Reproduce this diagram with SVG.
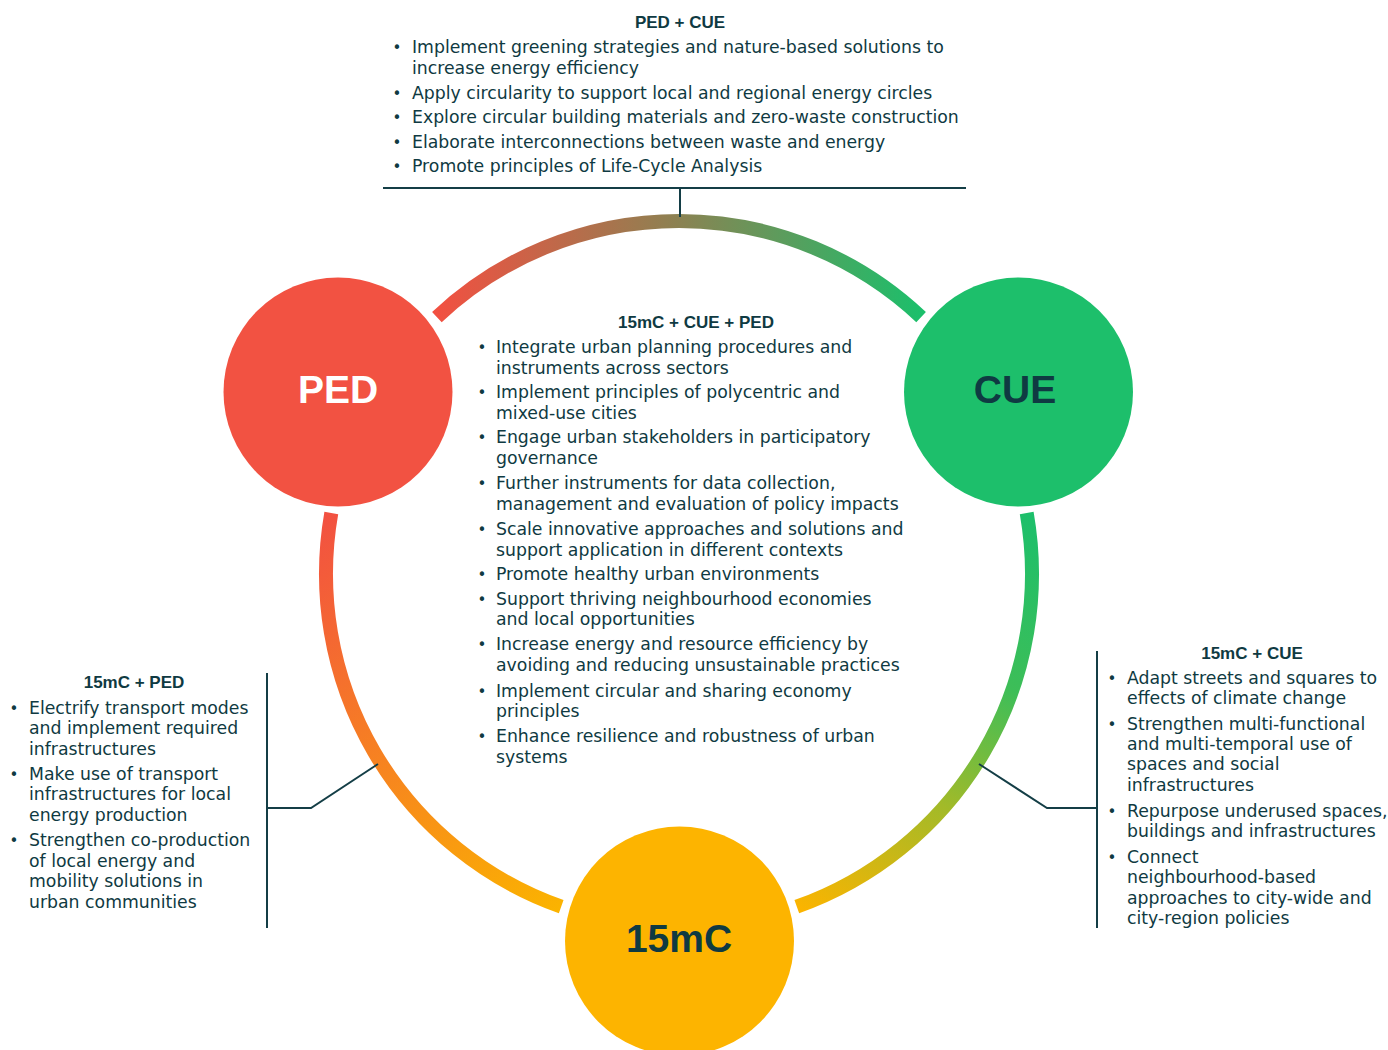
<svg xmlns="http://www.w3.org/2000/svg" width="1388" height="1050" viewBox="0 0 1388 1050">
<defs>
<style>
.t{font-family:"DejaVu Sans","Noto Sans",sans-serif;font-size:17.3px;fill:#0f3a42}
.b{font-family:"DejaVu Sans","Noto Sans",sans-serif;font-size:15px;fill:#0f3a42;text-anchor:middle}
.h{font-family:"Liberation Sans",Arial,sans-serif;font-weight:bold;font-size:17px;fill:#0f3a42;text-anchor:middle}
.lab{font-family:"Liberation Sans",Arial,sans-serif;font-weight:bold;font-size:39px;text-anchor:middle}
.ln{fill:none;stroke:#143e46;stroke-width:2}
.ring{fill:none;stroke-width:14}
</style>
<linearGradient id="gTop" gradientUnits="userSpaceOnUse" x1="437" y1="300" x2="921" y2="300">
<stop offset="0" stop-color="#f25041"/>
<stop offset="0.5" stop-color="#8b8252"/>
<stop offset="1" stop-color="#1cbf6b"/>
</linearGradient>
<linearGradient id="gLeft" gradientUnits="userSpaceOnUse" x1="331" y1="513" x2="561" y2="907">
<stop offset="0" stop-color="#f25141"/>
<stop offset="0.55" stop-color="#f7851f"/>
<stop offset="1" stop-color="#fbb300"/>
</linearGradient>
<linearGradient id="gRight" gradientUnits="userSpaceOnUse" x1="1027" y1="513" x2="797" y2="907">
<stop offset="0" stop-color="#1dbf6b"/>
<stop offset="0.35" stop-color="#3dbe58"/>
<stop offset="0.65" stop-color="#a3ba28"/>
<stop offset="1" stop-color="#fbb400"/>
</linearGradient>
</defs>
<rect width="1388" height="1050" fill="#ffffff"/>

<g id="connectors">
<path class="ring" stroke="url(#gTop)" d="M436.9,317.1 A353,353 0 0 1 921.1,317.1"/>
<path class="ring" stroke="url(#gLeft)" d="M331.3,513 A353,353 0 0 0 561.2,906.7"/>
<path class="ring" stroke="url(#gRight)" d="M1026.7,513 A353,353 0 0 1 796.8,906.7"/>
<path class="ln" d="M383,188 H966 M680,188 V217"/>
<path class="ln" d="M267,673 V928 M267,808 H311 L378,764"/>
<path class="ln" d="M1097,651 V928 M1097,808 H1047 L979,764"/>
</g>

<g id="ped">
<circle cx="338" cy="392" r="114.5" fill="#f25242"/>
<text class="lab" x="338" y="403" fill="#ffffff">PED</text>
</g>
<g id="cue">
<circle cx="1018.5" cy="392" r="114.5" fill="#1dbf6b"/>
<text class="lab" x="1015" y="403" fill="#0f3a42">CUE</text>
</g>
<g id="c15">
<circle cx="679.5" cy="941" r="114.5" fill="#fdb400"/>
<text class="lab" x="679" y="952" fill="#0f3a42">15mC</text>
</g>

<g id="ped-cue">
<text class="h" x="680" y="28">PED + CUE</text>
<text class="b" x="397" y="53">•</text><text class="t" x="412" y="53">Implement greening strategies and nature-based solutions to</text>
<text class="t" x="412" y="74">increase energy efficiency</text>
<text class="b" x="397" y="98.5">•</text><text class="t" x="412" y="98.5">Apply circularity to support local and regional energy circles</text>
<text class="b" x="397" y="123">•</text><text class="t" x="412" y="123">Explore circular building materials and zero-waste construction</text>
<text class="b" x="397" y="147.5">•</text><text class="t" x="412" y="147.5">Elaborate interconnections between waste and energy</text>
<text class="b" x="397" y="172">•</text><text class="t" x="412" y="172">Promote principles of Life-Cycle Analysis</text>
</g>

<g id="all-three">
<text class="h" x="696" y="328">15mC + CUE + PED</text>
<text class="b" x="482" y="353">•</text><text class="t" x="496" y="353">Integrate urban planning procedures and</text>
<text class="t" x="496" y="373.5">instruments across sectors</text>
<text class="b" x="482" y="398">•</text><text class="t" x="496" y="398">Implement principles of polycentric and</text>
<text class="t" x="496" y="418.5">mixed-use cities</text>
<text class="b" x="482" y="443">•</text><text class="t" x="496" y="443">Engage urban stakeholders in participatory</text>
<text class="t" x="496" y="463.5">governance</text>
<text class="b" x="482" y="489">•</text><text class="t" x="496" y="489">Further instruments for data collection,</text>
<text class="t" x="496" y="509.5">management and evaluation of policy impacts</text>
<text class="b" x="482" y="535">•</text><text class="t" x="496" y="535">Scale innovative approaches and solutions and</text>
<text class="t" x="496" y="556">support application in different contexts</text>
<text class="b" x="482" y="580">•</text><text class="t" x="496" y="580">Promote healthy urban environments</text>
<text class="b" x="482" y="604.5">•</text><text class="t" x="496" y="604.5">Support thriving neighbourhood economies</text>
<text class="t" x="496" y="625">and local opportunities</text>
<text class="b" x="482" y="650">•</text><text class="t" x="496" y="650">Increase energy and resource efficiency by</text>
<text class="t" x="496" y="671">avoiding and reducing unsustainable practices</text>
<text class="b" x="482" y="696.5">•</text><text class="t" x="496" y="696.5">Implement circular and sharing economy</text>
<text class="t" x="496" y="717">principles</text>
<text class="b" x="482" y="742">•</text><text class="t" x="496" y="742">Enhance resilience and robustness of urban</text>
<text class="t" x="496" y="763">systems</text>
</g>

<g id="c15-ped">
<text class="h" x="134" y="688">15mC + PED</text>
<text class="b" x="14" y="713.5">•</text><text class="t" x="29" y="713.5">Electrify transport modes</text>
<text class="t" x="29" y="734">and implement required</text>
<text class="t" x="29" y="754.5">infrastructures</text>
<text class="b" x="14" y="779.5">•</text><text class="t" x="29" y="779.5">Make use of transport</text>
<text class="t" x="29" y="800">infrastructures for local</text>
<text class="t" x="29" y="820.5">energy production</text>
<text class="b" x="14" y="846">•</text><text class="t" x="29" y="846">Strengthen co-production</text>
<text class="t" x="29" y="866.5">of local energy and</text>
<text class="t" x="29" y="887">mobility solutions in</text>
<text class="t" x="29" y="908">urban communities</text>
</g>

<g id="c15-cue">
<text class="h" x="1252" y="659">15mC + CUE</text>
<text class="b" x="1112" y="683.5">•</text><text class="t" x="1127" y="683.5">Adapt streets and squares to</text>
<text class="t" x="1127" y="703.5">effects of climate change</text>
<text class="b" x="1112" y="729.5">•</text><text class="t" x="1127" y="729.5">Strengthen multi-functional</text>
<text class="t" x="1127" y="749.5">and multi-temporal use of</text>
<text class="t" x="1127" y="770">spaces and social</text>
<text class="t" x="1127" y="790.5">infrastructures</text>
<text class="b" x="1112" y="817">•</text><text class="t" x="1127" y="817">Repurpose underused spaces,</text>
<text class="t" x="1127" y="837">buildings and infrastructures</text>
<text class="b" x="1112" y="863">•</text><text class="t" x="1127" y="863">Connect</text>
<text class="t" x="1127" y="883">neighbourhood-based</text>
<text class="t" x="1127" y="903.5">approaches to city-wide and</text>
<text class="t" x="1127" y="923.5">city-region policies</text>
</g>
</svg>
